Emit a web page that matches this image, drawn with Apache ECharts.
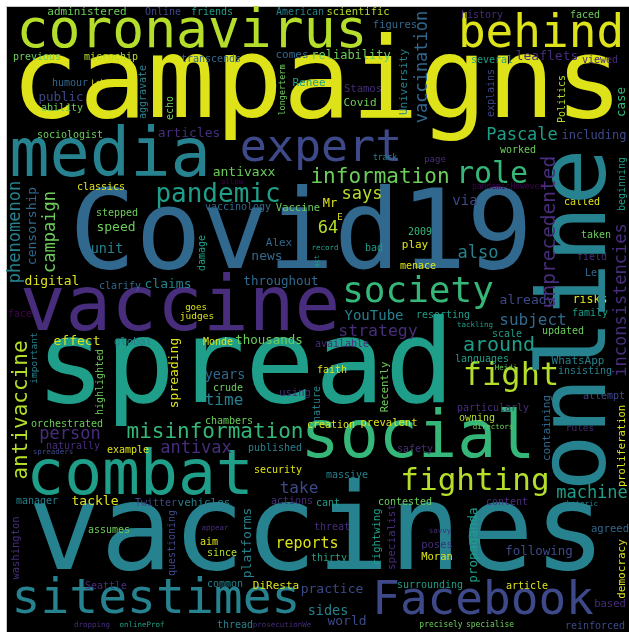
<!DOCTYPE html>
<html><head><meta charset="utf-8">
<script src="https://cdn.jsdelivr.net/npm/echarts@6/dist/echarts.min.js"></script>
<style>html,body{margin:0;padding:0;background:#fff}#c{width:629px;height:632px}</style>
</head><body><div id="c"></div>
<script>
// viridis colour keys
const palette = {Y:"#dde318",YG:"#b5de2b",G:"#6ccd5a",TG:"#35b779",T:"#1f9e89",TB:"#26828e",B:"#31688e",I:"#3e4989",P:"#472d7b",DP:"#440154"};
// [word, x, y, fontSize, colour]
const horizontalWords = [
["campaigns",317,88,113,"Y"],["coronavirus",192,33,53,"YG"],["behind",541,35,46,"Y"],["media",110,159,67,"TB"],
["expert",321,149,45,"I"],["Covid19",301,239,110,"B"],["vaccine",180,310,76,"P"],["spread",245,372,116,"T"],
["social",418,440,65,"TG"],["combat",140,478,63,"T"],["vaccines",317,538,120,"TB"],["sitestimes",156,601,48,"TB"],
["Facebook",483,602,46,"I"],["pandemic",218,195,26,"T"],["information",380,178,21,"G"],["role",492,175,30,"TG"],
["society",418,293,36,"TG"],["misinformation",215,433,21,"TG"],["fighting",475,482,31,"YG"],["fight",511,377,32,"YG"],
["around",499,346,20,"T"],["Pascale",522,136,17,"T"],["says",362,195,17,"YG"],["64",328,229,17,"YG"],
["also",478,254,17,"TB"],["subject",533,321,16,"B"],["machine",592,494,17,"T"],["person",70,435,17,"P"],
["antivax",196,449,17,"P"],["strategy",378,332,16.5,"P"],["YouTube",374,316,14,"TB"],["via",465,201,14,"I"],
["time",224,401,16,"TB"],["reports",307,544,15,"Y"],["take",299,489,16,"I"],["leaflets",547,57,13,"P"],
["articles",189,134,13,"P"],["public",61,98,12.5,"I"],["reliability",351,56,12,"G"],["including",594,136,12,"I"],
["antivaxx",244,173,13,"G"],["speed",116,228,13,"G"],["unit",107,249,13.5,"TB"],["digital",52,282,13,"Y"],
["claims",168,285,13,"TB"],["news",267,257,13,"B"],["throughout",281,282,12.5,"B"],["effect",77,342,13,"Y"],
["thousands",269,341,12.5,"G"],["years",225,375,13.5,"B"],["already",527,301,13,"I"],["tackle",95,502,13,"Y"],
["practice",332,590,13,"I"],["sides",328,611,13.5,"TB"],["world",347,622,13,"I"],["following",539,552,12.5,"I"],
["Mr",330,204,12,"Y"],["administered",87,12,11,"G"],["Online",163,12,10,"I"],["friends",212,12,10,"T"],
["American",300,12,10,"TB"],["scientific",358,12,10.5,"YG"],["history",482,15,10,"P"],["faced",585,15,10,"G"],
["figures",395,25,10.5,"B"],["previous",37,57,10,"G"],["microchip",111,57,10,"YG"],["transcends",211,59,10,"B"],
["comes",292,55,11,"B"],["several",492,60,10,"T"],["viewed",600,60,10,"P"],["humour",70,83,10,"B"],
["Labour",105,83,7.5,"Y"],["ability",62,108,10,"G"],["Renee",309,83,11,"T"],["Stamos",363,89,10.5,"P"],
["Covid",360,103,11,"G"],["sociologist",70,135,10,"G"],["worked",518,150,10,"G"],["track",385,158,8,"TB"],
["page",435,160,9,"P"],["pandemicHowever",508,187,8,"DP"],["classics",101,187,10,"Y"],["allow",232,182,7.5,"DP"],
["stepped",117,213,10,"G"],["vaccinology",238,207,10,"B"],["Vaccine",298,208,10.5,"G"],["called",582,202,10,"Y"],
["E",340,218,9,"Y"],["taken",596,235,10,"G"],["2009",420,232,10,"TG"],["Alex",279,243,11,"B"],
["record",325,248,7.5,"T"],["bad",374,248,10,"T"],["play",415,245,11,"Y"],["field",592,257,10,"P"],
["menace",418,266,10,"Y"],["Le",591,273,10,"B"],["clarify",120,286,10,"B"],["risks",590,300,11.5,"Y"],
["goes",196,308,9,"Y"],["face",20,314,10,"DP"],["judges",197,317,9.5,"Y"],["family",590,313,10,"T"],
["resorting",443,315,10,"T"],["tackling",475,325,7.5,"T"],["updated",563,331,10,"G"],["scale",507,334,10,"T"],
["Monde",218,342,10,"Y"],["available",342,344,10,"P"],["global",133,342,10.5,"TB"],["languages",482,359,10,"T"],
["WhatsApp",578,361,11,"TB"],["Heidi",506,368,7.5,"G"],["insisting",585,371,10,"TB"],["faith",332,370,10,"Y"],
["crude",228,388,10,"G"],["using",295,393,10.5,"P"],["attempt",604,396,10,"I"],["particularly",493,408,10,"P"],
["owning",477,418,10,"YG"],["orchestrated",67,424,10,"G"],["chambers",229,421,10,"G"],["creation",331,425,10,"Y"],
["prevalent",389,423,10.5,"Y"],["directors",493,427,7.5,"G"],["rules",580,429,9.5,"P"],["naturally",73,446,10,"P"],
["published",275,448,10,"TB"],["safety",415,449,10,"P"],["example",128,450,10,"Y"],["spreaders",53,452,7.5,"I"],
["security",278,470,10,"Y"],["massive",347,475,10,"TB"],["actions",292,501,10,"P"],["manager",37,501,10,"TB"],
["Twitter",156,503,10,"I"],["vehicles",204,503,11,"TB"],["cant",328,503,10,"T"],["contested",405,502,10,"G"],
["content",507,502,10,"P"],["rhetoric",580,504,7.5,"TB"],["threat",332,527,10,"P"],["appear",215,528,7.5,"P"],
["assumes",109,530,10,"G"],["savvy",440,531,7.5,"P"],["agreed",610,529,10.5,"B"],["aim",209,542,10,"Y"],
["poses",437,545,10.5,"P"],["since",222,553,10,"YG"],["Moran",437,557,10.5,"Y"],["thirty",329,558,10,"T"],
["common",225,584,10,"TB"],["DiResta",276,586,11,"Y"],["Seattle",106,586,10,"P"],["surrounding",430,585,10,"T"],
["article",527,586,10,"Y"],["based",610,604,10.5,"P"],["dropping",92,625,7.5,"P"],["onlineProf",142,625,7.5,"T"],
["thread",235,625,10,"TB"],["prosecutionWe",282,625,7.5,"P"],["precisely",441,625,8,"G"],["specialise",490,625,8,"G"],
["reinforced",595,626,10,"I"]
];
const verticalWords = [
["online",580,320,95,"TB"],["vaccination",423,67,17,"B"],["unprecedented",550,232,19.5,"P"],["inconsistencies",622,300,17,"P"],
["phenomenon",16,232,17,"TB"],["campaign",51,232,17,"G"],["censorship",33,226,13,"B"],["antivaccine",22,410,21,"YG"],
["aggravate",143,92,10,"TB"],["echo",170,108,10,"G"],["University",404,82,11,"TB"],["longerterm",283,90,8.5,"G"],
["explains",491,93,10,"I"],["Politics",562,99,10,"YG"],["case",622,102,12.5,"TG"],["beginning",622,184,10,"T"],
["damage",202,253,10,"T"],["act",317,261,7,"T"],["important",35,358,9.5,"TB"],["highlighted",100,382,10,"G"],
["spreading",175,373,13,"Y"],["Recently",385,387,10.5,"G"],["nature",317,404,10,"TB"],["containing",547,428,11,"B"],
["proliferation",622,446,10.5,"Y"],["propaganda",474,545,12.5,"T"],["democracy",622,569,11,"Y"],["washington",16,548,10.5,"P"],
["questioning",172,543,10,"I"],["platforms",248,543,13,"TB"],["rightwing",377,537,10.5,"T"],["specialist",392,537,11,"P"]
];

function toItems(list, rot){
  return list.map(w => ({
    name: w[0], value: [w[1], w[2]],
    label: {fontSize: w[3], rotate: rot, color: palette[w[4]], opacity: 1}
  }));
}
const chart = echarts.init(document.getElementById('c'), null, {renderer:'canvas'});
chart.setOption({
  animation:false,
  backgroundColor:'#ffffff',
  grid:{left:7,top:7,right:0,bottom:0,show:true,backgroundColor:'#000000',borderWidth:0},
  xAxis:{type:'value',min:7,max:629,show:false},
  yAxis:{type:'value',min:7,max:632,inverse:true,show:false},
  graphic:[
    {type:'line',shape:{x1:6,y1:6.5,x2:629,y2:6.5},style:{stroke:'#c8c8c8',lineWidth:1},silent:true},
    {type:'line',shape:{x1:6.5,y1:6,x2:6.5,y2:632},style:{stroke:'#c8c8c8',lineWidth:1},silent:true}
  ],
  series:[{
    type:'scatter', symbolSize:0, itemStyle:{color:'transparent',opacity:1},
    label:{show:true,position:'inside',formatter:'{b}',fontFamily:'DejaVu Sans Mono',align:'center',verticalAlign:'middle',opacity:1},
    emphasis:{disabled:true},
    labelLayout:{hideOverlap:false},
    data: toItems(horizontalWords,0).concat(toItems(verticalWords,90))
  }]
});
</script></body></html>
